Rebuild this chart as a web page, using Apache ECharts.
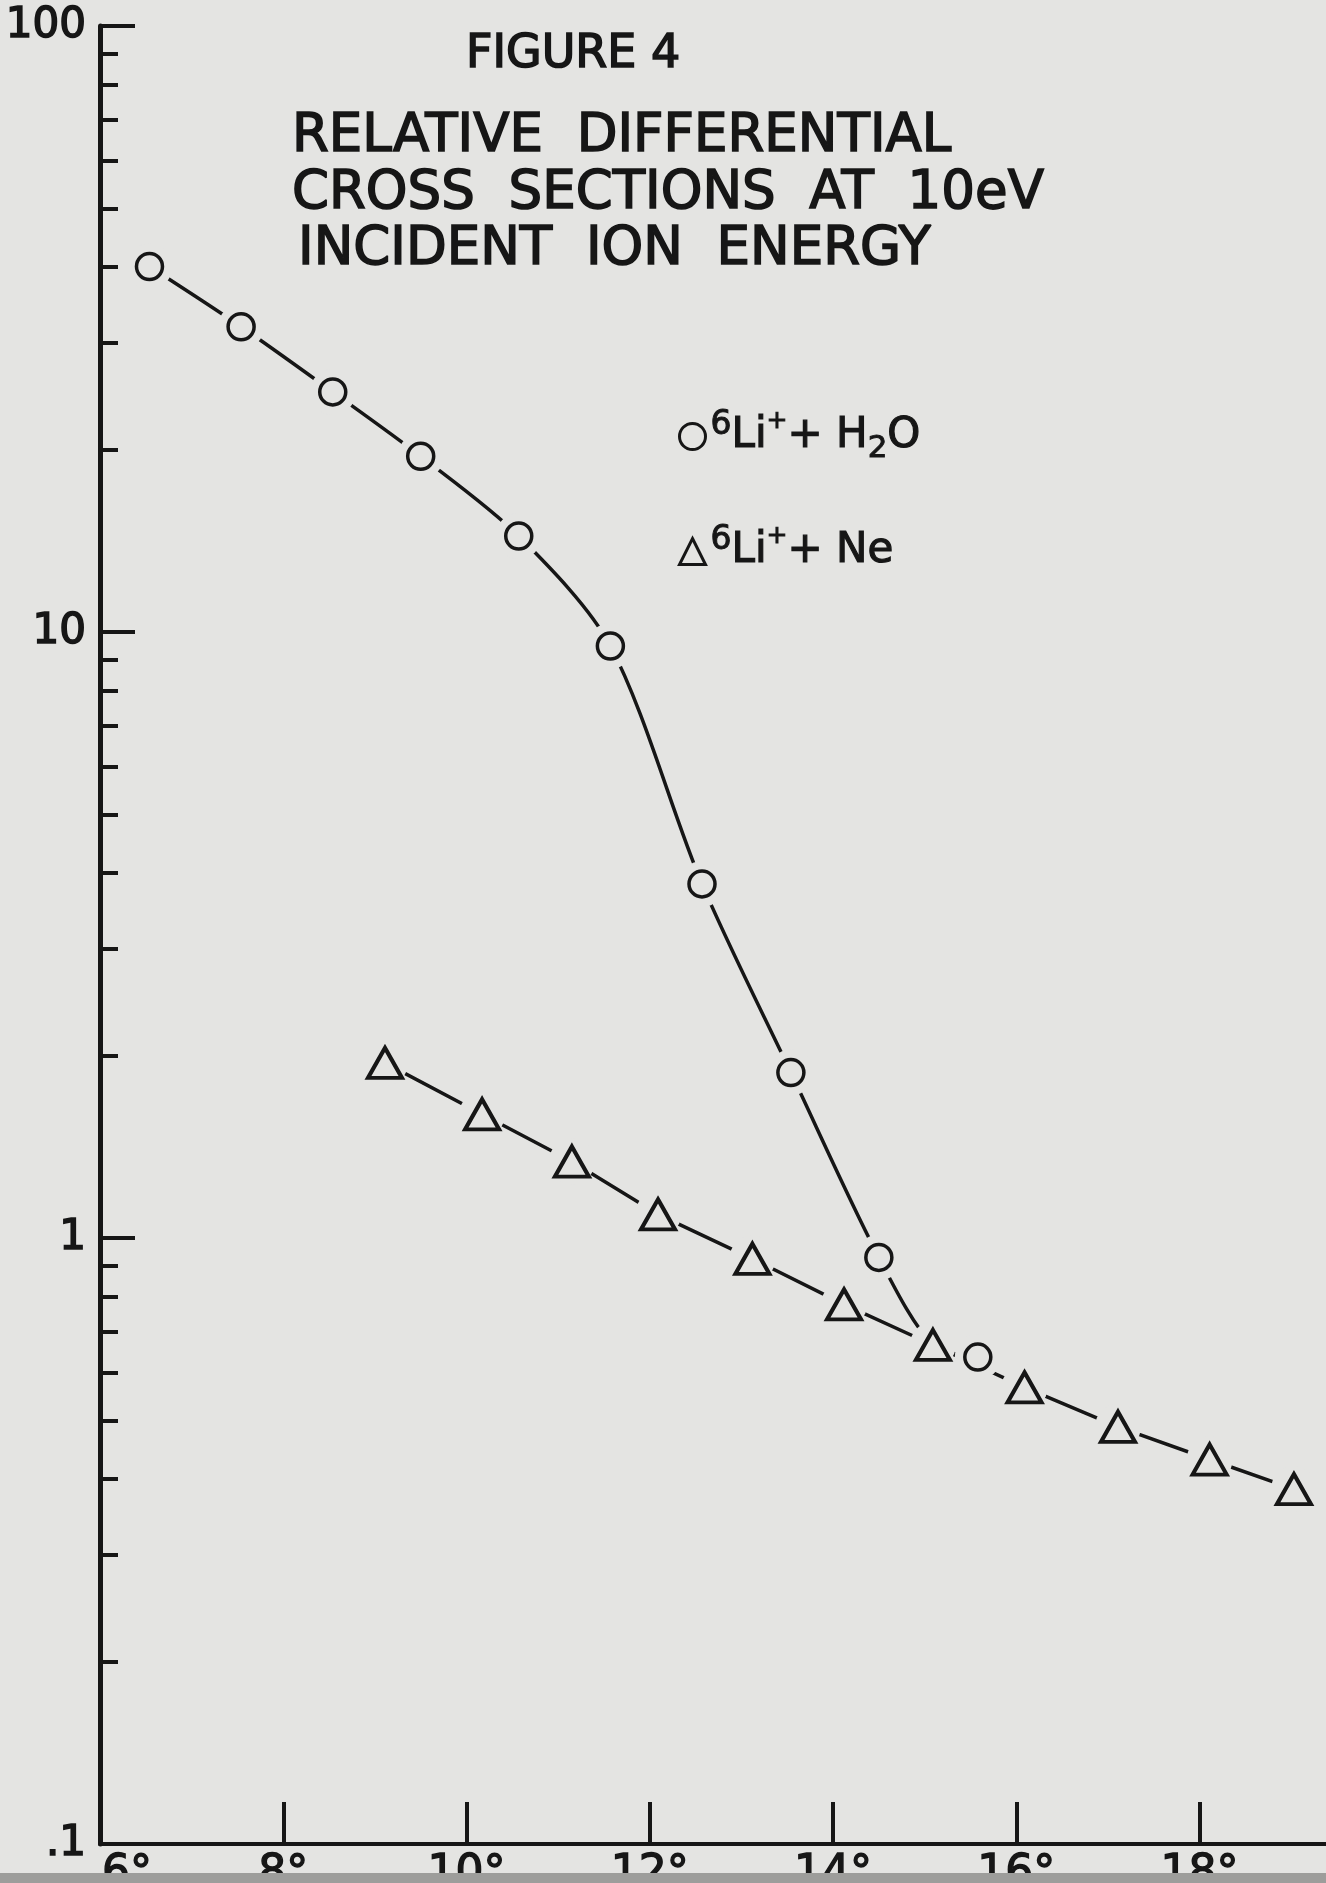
<!DOCTYPE html>
<html>
<head>
<meta charset="utf-8">
<title>Figure 4</title>
<script src="https://cdn.jsdelivr.net/npm/echarts@6/dist/echarts.min.js"></script>
<style>
  html, body { margin: 0; padding: 0; background: #e4e4e2; }
  #chart { width: 1326px; height: 1883px; }
</style>
</head>
<body>
<div id="chart"></div>
<script>
// scattering angle (deg) and relative cross section
const h2oAngle = [6.54, 7.54, 8.54, 9.50, 10.57, 11.57, 12.57, 13.54, 14.50, 15.58];
const h2oValue = [40.1, 31.9, 24.9, 19.5, 14.4, 9.48, 3.84, 1.875, 0.929, 0.636];
const neAngle = [9.11, 10.17, 11.15, 12.09, 13.12, 14.12, 15.09, 16.09, 17.11, 18.11, 19.03];
const neValue = [1.945, 1.60, 1.337, 1.094, 0.924, 0.777, 0.666, 0.567, 0.488, 0.431, 0.385];
// the H2O curve is drawn into the Ne curve here
const joinAngle = 15.09;
const joinValue = 0.666;

const xTicks = [8, 10, 12, 14, 16, 18];
const xLabels = [6, 8, 10, 12, 14, 16, 18];
const yMajor = [0.1, 1, 10, 100];
const yMajorText = ['.1', '1', '10', '100'];
const yMinor = [0.2, 0.3, 0.4, 0.5, 0.6, 0.7, 0.8, 0.9,
                2, 3, 4, 5, 6, 7, 8, 9,
                20, 30, 40, 50, 60, 70, 80, 90];

const titleLines = ['RELATIVE  DIFFERENTIAL', 'CROSS  SECTIONS  AT  10eV', 'INCIDENT  ION  ENERGY'];

const ink = '#161616';
const paper = '#e4e4e2';
const font = 'DejaVu Sans';

const chart = echarts.init(document.getElementById('chart'), null, { renderer: 'canvas' });

const zip = (xs, ys) => xs.map((x, i) => [x, ys[i]]);
const h2oPts = zip(h2oAngle, h2oValue);
const nePts = zip(neAngle, neValue);
const h2oLinePts = h2oPts.slice(0, 9).concat([[joinAngle, joinValue]], h2oPts.slice(9));

// hand lettering: text with a thin outline in the same ink
function letter(text, x, y, size) {
  return {
    type: 'text', x: x, y: y, z: 10,
    style: {
      text: text, fontFamily: font, fontSize: size, fill: ink,
      stroke: ink, lineWidth: 1.6,
      textAlign: 'left', textVerticalAlign: 'middle'
    }
  };
}

const option = {
  animation: false,
  backgroundColor: paper,
  textStyle: { fontFamily: font, color: ink },
  grid: { left: 100, right: 0, top: 26, bottom: 39, containLabel: false, outerBoundsMode: 'none' },
  xAxis: {
    type: 'value',
    min: 6,
    max: 19.38,
    axisLine: { lineStyle: { color: ink, width: 4 } },
    axisTick: { inside: true, length: 42, customValues: xTicks, lineStyle: { color: ink, width: 4 } },
    axisLabel: {
      customValues: xLabels,
      formatter: v => v === 6 ? '{first|6°}' : v + '°',
      fontSize: 44, color: ink, margin: 9,
      textBorderColor: ink, textBorderWidth: 1.4,
      rich: { first: { fontSize: 44, color: ink, textBorderColor: ink, textBorderWidth: 1.4, padding: [0, 0, 0, 54] } }
    },
    splitLine: { show: false }
  },
  yAxis: [{
    type: 'log',
    logBase: 10,
    min: 0.1,
    max: 100,
    axisLine: { show: true, lineStyle: { color: ink, width: 5 } },
    axisTick: { inside: true, length: 35, customValues: yMajor, lineStyle: { color: ink, width: 4 } },
    axisLabel: {
      customValues: yMajor,
      formatter: v => yMajorText[Math.round(Math.log10(v)) + 1],
      fontSize: 42, color: ink, margin: 14,
      textBorderColor: ink, textBorderWidth: 1.6
    },
    splitLine: { show: false }
  }, {
    type: 'log',
    logBase: 10,
    min: 0.1,
    max: 100,
    position: 'left',
    offset: 0,
    axisLine: { show: false },
    axisTick: { show: true, inside: true, length: 18, customValues: yMinor, lineStyle: { color: ink, width: 4 } },
    axisLabel: { show: false },
    splitLine: { show: false }
  }],
  legend: {
    orient: 'vertical',
    left: 673,
    top: 403,
    itemWidth: 26,
    itemHeight: 26,
    itemGap: 58,
    data: [
      { name: 'h2o', icon: 'circle', itemStyle: { color: paper, borderColor: ink, borderWidth: 3 } },
      { name: 'ne', icon: 'triangle', itemStyle: { color: paper, borderColor: ink, borderWidth: 3 } }
    ],
    formatter: name => name === 'h2o'
      ? '{sup|6}Li{plus|+}+ H{sub|2}O'
      : '{sup|6}Li{plus|+}+ Ne',
    textStyle: {
      fontFamily: font, fontSize: 42, color: ink, lineHeight: 56,
      textBorderColor: ink, textBorderWidth: 1.2,
      rich: {
        sup: { fontFamily: font, fontSize: 33, lineHeight: 30, verticalAlign: 'top', color: ink, textBorderColor: ink, textBorderWidth: 1 },
        plus: { fontFamily: font, fontSize: 25, lineHeight: 30, verticalAlign: 'top', color: ink, textBorderColor: ink, textBorderWidth: 1 },
        sub: { fontFamily: font, fontSize: 31, lineHeight: 30, verticalAlign: 'bottom', color: ink, textBorderColor: ink, textBorderWidth: 1 }
      }
    }
  },
  series: [
    {
      name: 'h2oLine', type: 'line', data: h2oLinePts, symbol: 'none', smooth: 0.3,
      lineStyle: { color: ink, width: 3.5 }, z: 2, silent: true
    },
    {
      name: 'neLine', type: 'line', data: nePts, symbol: 'none',
      lineStyle: { color: ink, width: 3.5 }, z: 2, silent: true
    },
    {
      // clear a little paper round each marker, like the pen gaps
      name: 'gap', type: 'scatter', data: h2oPts.concat(nePts),
      symbol: 'circle', symbolSize: 46, itemStyle: { color: paper, opacity: 1 }, z: 3, silent: true
    },
    {
      name: 'h2o', type: 'scatter', data: h2oPts, symbol: 'circle', symbolSize: 26,
      itemStyle: { color: paper, borderColor: ink, borderWidth: 3.5, opacity: 1 }, z: 4
    },
    {
      name: 'ne', type: 'scatter', data: nePts, symbol: 'triangle', symbolSize: [34, 30],
      itemStyle: { color: paper, borderColor: ink, borderWidth: 4, opacity: 1 }, z: 4
    }
  ],
  graphic: [
    letter('FIGURE 4', 466, 55, 46),
    letter(titleLines[0], 292, 137, 53),
    letter(titleLines[1], 292, 194, 53),
    letter(titleLines[2], 298, 250, 53),
    {
      // darker strip along the bottom edge of the photo
      type: 'rect', z: 100, silent: true,
      shape: { x: 0, y: 1873, width: 1326, height: 10 },
      style: { fill: '#9d9d9b' }
    }
  ]
};

chart.setOption(option);
</script>
</body>
</html>
